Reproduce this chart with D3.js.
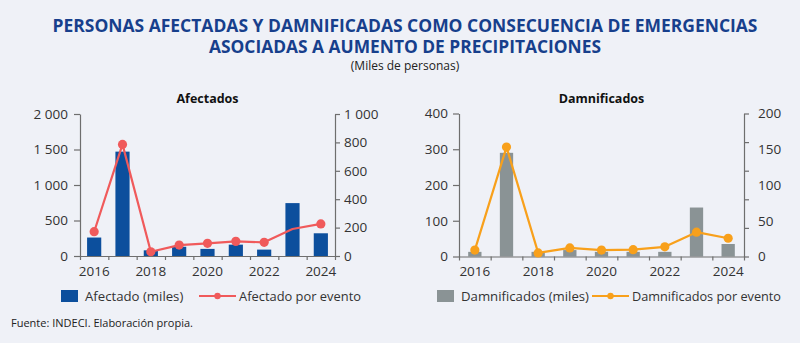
<!DOCTYPE html>
<html>
<head>
<meta charset="utf-8">
<script src="https://cdn.jsdelivr.net/npm/d3@7/dist/d3.min.js"></script>
<style>
  html, body { margin: 0; padding: 0; background: #eff1f7; }
  svg { display: block; }
  text { font-family: "Open Sans", "Noto Sans", sans-serif; }
</style>
</head>
<body>
<svg id="chart" width="800" height="343"></svg>
<script>
// ---- Data ----
const years = ["2016","2017","2018","2019","2020","2021","2022","2023","2024"];
const yearLabels = ["2016","2018","2020","2022","2024"];

const afectadoMiles = [260, 1470, 80, 130, 100, 160, 90, 745, 320];
const afectadoPorEvento = [171, 786, 30, 77, 89, 103, 96, 190, 226];
const afectadoMarkerYears = ["2016","2017","2018","2019","2020","2021","2022","2024"];

const damnificadosMiles = [13, 290, 13, 18, 13, 13, 13, 137, 35];
const damnificadosPorEvento = [9, 153, 5, 12, 9, 9.5, 13.5, 34, 25.5];
const damnificadosMarkerYears = years.slice();

const afectLeftTicks = [0, 500, 1000, 1500, 2000];
const afectRightTicks = [0, 200, 400, 600, 800, 1000];
const damnLeftTicks = [0, 100, 200, 300, 400];
const damnRightTickMarks = [0, 40, 80, 120, 160, 200];
const damnRightTickLabels = [0, 50, 100, 150, 200];

const titleLines = ["PERSONAS AFECTADAS Y DAMNIFICADAS COMO CONSECUENCIA DE EMERGENCIAS",
                    "ASOCIADAS A AUMENTO DE PRECIPITACIONES"];
const subtitle = "(Miles de personas)";
const source = "Fuente: INDECI. Elaboración propia.";

// ---- Drawing ----
const svg = d3.select("#chart");
const fmt = d3.formatLocale({decimal: ",", thousands: " ", grouping: [3], currency: ["", ""]}).format(",");
const TXT = "#333333";
const AXIS = "#6e6e6e";

svg.append("rect").attr("width", 800).attr("height", 343).attr("fill", "#eff1f7");

const titleWidths = [705, 392];
svg.append("g").selectAll("text").data(titleLines).join("text")
  .attr("x", 405).attr("y", (d, i) => 32 + i * 21)
  .attr("text-anchor", "middle")
  .attr("font-size", 18).attr("font-weight", 700)
  .attr("textLength", (d, i) => titleWidths[i]).attr("lengthAdjust", "spacingAndGlyphs")
  .attr("fill", "#173f8c").text(d => d);

svg.append("text").attr("x", 405).attr("y", 70).attr("text-anchor", "middle")
  .attr("font-size", 12).attr("fill", "#222").text(subtitle);

svg.append("text").attr("x", 11).attr("y", 327)
  .attr("font-size", 11).attr("fill", "#222").text(source);

function panel(cfg) {
  const g = svg.append("g");
  const x = d3.scaleBand().domain(years).range([cfg.x0, cfg.x1])
    .paddingInner(cfg.pad).paddingOuter(cfg.pad / 2);
  const xb = d3.scaleLinear().domain([0, years.length]).range([cfg.x0, cfg.x1]);
  const yL = d3.scaleLinear().domain([0, cfg.leftMax]).range([cfg.y0, cfg.y1]);
  const yR = d3.scaleLinear().domain([0, cfg.rightMax]).range([cfg.y0, cfg.y1]);

  // subplot title
  g.append("text").attr("x", (cfg.x0 + cfg.x1) / 2).attr("y", 103)
    .attr("text-anchor", "middle").attr("font-size", 12.5).attr("font-weight", 700)
    .attr("fill", "#111").text(cfg.title);

  // bars
  g.append("g").selectAll("rect").data(cfg.bars).join("rect")
    .attr("x", (d, i) => x(years[i])).attr("width", x.bandwidth())
    .attr("y", d => yL(d)).attr("height", d => yL(0) - yL(d))
    .attr("fill", cfg.barColor);

  // axes
  const styleAxis = sel => {
    sel.selectAll("path, line").attr("stroke", AXIS).attr("stroke-width", 1.2);
    sel.selectAll("text").attr("fill", TXT).attr("font-size", 13.5)
      .attr("font-family", '"Open Sans", "Noto Sans", sans-serif');
  };
  g.append("g").attr("transform", `translate(${cfg.x0},0)`)
    .call(d3.axisLeft(yL).tickValues(cfg.leftTicks).tickFormat(fmt).tickSize(6).tickSizeOuter(0).tickPadding(cfg.leftPad))
    .call(styleAxis);

  if (cfg.rightLabels) {
    g.append("g").attr("transform", `translate(${cfg.x1},0)`)
      .call(d3.axisRight(yR).tickValues(cfg.rightTicks).tickFormat("").tickSize(5).tickSizeOuter(0))
      .call(styleAxis);
    g.append("g").attr("transform", `translate(${cfg.x1},0)`)
      .call(d3.axisRight(yR).tickValues(cfg.rightLabels).tickFormat(fmt).tickSize(0).tickPadding(cfg.rightPad))
      .call(styleAxis).call(s => s.select(".domain").remove());
  } else {
    g.append("g").attr("transform", `translate(${cfg.x1},0)`)
      .call(d3.axisRight(yR).tickValues(cfg.rightTicks).tickFormat(fmt).tickSize(5).tickSizeOuter(0).tickPadding(cfg.rightPad))
      .call(styleAxis);
  }

  g.append("g").attr("transform", `translate(0,${cfg.y0})`)
    .call(d3.axisBottom(xb).tickValues(d3.range(years.length + 1)).tickFormat("").tickSize(4).tickSizeOuter(0))
    .call(styleAxis);
  g.append("g").attr("transform", `translate(0,${cfg.y0})`)
    .call(d3.axisBottom(x).tickValues(yearLabels).tickSize(0).tickPadding(10))
    .call(styleAxis).call(s => s.select(".domain").remove());

  // line
  const cx = i => x(years[i]) + x.bandwidth() / 2;
  const line = d3.line().x((d, i) => cx(i)).y(d => yR(d));
  g.append("path").datum(cfg.line).attr("d", line)
    .attr("fill", "none").attr("stroke", cfg.lineColor).attr("stroke-width", 2.2)
    .attr("stroke-linejoin", "round");
  g.append("g").selectAll("circle")
    .data(cfg.line.map((v, i) => ({v, i})).filter(d => cfg.markerYears.includes(years[d.i])))
    .join("circle")
    .attr("cx", d => cx(d.i)).attr("cy", d => yR(d.v)).attr("r", 4.6)
    .attr("fill", cfg.lineColor);

  // legend
  const lg = g.append("g");
  lg.append("rect").attr("x", cfg.lgX).attr("y", 290).attr("width", 17).attr("height", 12)
    .attr("fill", cfg.barColor);
  lg.append("text").attr("x", cfg.lgX + 24).attr("y", 301).attr("font-size", 13.2)
    .attr("fill", TXT).text(cfg.barLabel);
  lg.append("line").attr("x1", cfg.lgLineX).attr("x2", cfg.lgLineX + 37)
    .attr("y1", 296).attr("y2", 296).attr("stroke", cfg.lineColor).attr("stroke-width", 2.2);
  lg.append("circle").attr("cx", cfg.lgLineX + 18.5).attr("cy", 296).attr("r", 3.2)
    .attr("fill", cfg.lineColor);
  lg.append("text").attr("x", cfg.lgLineX + 40).attr("y", 301).attr("font-size", 13.2)
    .attr("textLength", cfg.lineLabelW).attr("lengthAdjust", "spacingAndGlyphs")
    .attr("fill", TXT).text(cfg.lineLabel);
}

panel({
  title: "Afectados", x0: 80, x1: 335, y0: 256, y1: 114, pad: 0.5,
  leftMax: 2000, rightMax: 1000, leftTicks: afectLeftTicks, rightTicks: afectRightTicks,
  leftPad: 6, rightPad: 4,
  bars: afectadoMiles, line: afectadoPorEvento, markerYears: afectadoMarkerYears,
  barColor: "#0c4f9d", lineColor: "#f05a5b",
  lgX: 61, lgLineX: 199, barLabel: "Afectado (miles)", lineLabel: "Afectado por evento", lineLabelW: 122
});

panel({
  title: "Damnificados", x0: 459, x1: 744, y0: 256.5, y1: 113.5, pad: 0.58,
  leftMax: 400, rightMax: 200, leftTicks: damnLeftTicks, rightTicks: damnRightTickMarks,
  rightLabels: damnRightTickLabels,
  leftPad: 5, rightPad: 14,
  bars: damnificadosMiles, line: damnificadosPorEvento, markerYears: damnificadosMarkerYears,
  barColor: "#8a9395", lineColor: "#f8a01b",
  lgX: 437, lgLineX: 592, barLabel: "Damnificados (miles)", lineLabel: "Damnificados por evento", lineLabelW: 149
});
</script>
</body>
</html>
